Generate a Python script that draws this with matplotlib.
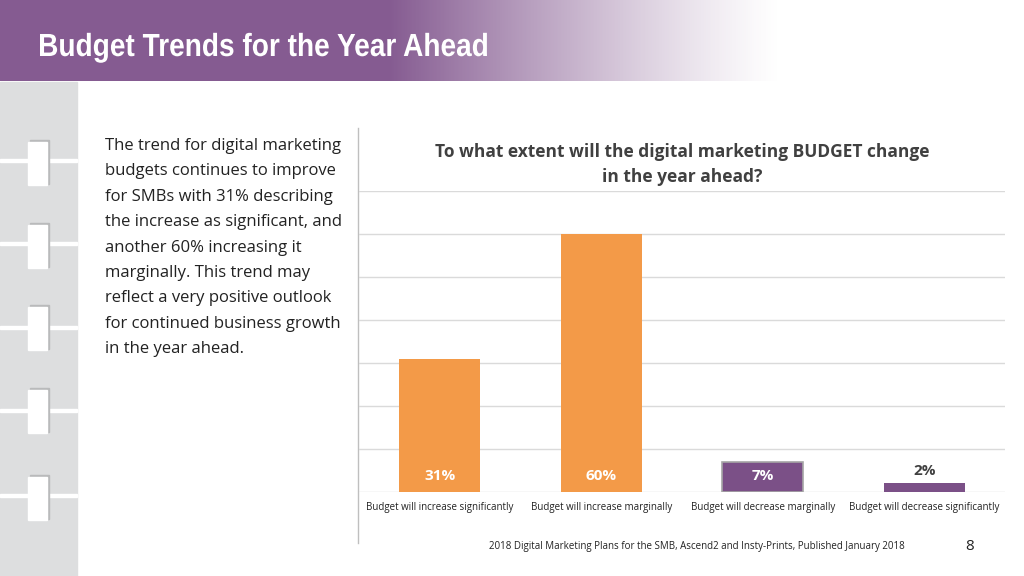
import numpy as np
import matplotlib.pyplot as plt
from matplotlib.patches import Rectangle, PathPatch
from matplotlib.textpath import TextPath
from matplotlib.font_manager import FontProperties
from matplotlib.transforms import Affine2D

# Dados
categories = ["Budget will increase significantly", "Budget will increase marginally",
              "Budget will decrease marginally", "Budget will decrease significantly"]
values = [31, 60, 7, 2]
bar_colors = ["#F39A48", "#F39A48", "#7B5087", "#7B5087"]
label_colors = ["white", "white", "white", "#404040"]

header = "Budget Trends for the Year Ahead"
chart_title = ["To what extent will the digital marketing BUDGET change", "in the year ahead?"]
body = ["The trend for digital marketing", "budgets continues to improve",
        "for SMBs with 31% describing", "the increase as significant, and",
        "another 60% increasing it", "marginally. This trend may",
        "reflect a very positive outlook", "for continued business growth",
        "in the year ahead."]
source = "2018 Digital Marketing Plans for the SMB, Ascend2 and Insty-Prints, Published January 2018"

fig = plt.figure(figsize=(10.24, 5.76), dpi=100)

# fundo em coordenadas de pixel
bg = fig.add_axes([0, 0, 1, 1])
bg.set_xlim(0, 1024)
bg.set_ylim(576, 0)
bg.axis("off")

# faixa do cabeçalho com degradê
w = 1024
grad = np.zeros((1, w, 4))
base = np.array([0x85, 0x5B, 0x91]) / 255
xs = np.arange(w)
alpha = np.clip(1 - (xs - 390) / 390, 0, 1) ** 1.2
grad[0, :, :3] = base
grad[0, :, 3] = alpha
bg.imshow(grad, extent=[0, 1024, 81, 0], aspect="auto", zorder=1)

# título estreito (fonte condensada simulada)
tp = TextPath((0, 0), header, size=32, prop=FontProperties(family="Liberation Sans", weight="bold"))
ext = tp.get_extents()
sx = 447 / ext.width
tr = Affine2D().translate(-ext.x0, 0).scale(sx, -1).translate(40, 56)
bg.add_patch(PathPatch(tr.transform_path(tp), color="white", lw=0, zorder=3))

# painel lateral cinza com abas
bg.add_patch(Rectangle((0, 82), 77, 494, color="#DDDEDF", zorder=1))
for top, gap in [(140, 160), (223, 243), (305, 327), (388, 410), (475, 495)]:
    bg.add_patch(Rectangle((0, gap - 1.5), 77, 3, color="white", zorder=2))
    bg.add_patch(Rectangle((30, top), 19, 44, color="#B9BABB", zorder=2))
    bg.add_patch(Rectangle((28, top + 2), 19, 43, color="white", zorder=3))

# texto do lado esquerdo
for i, line in enumerate(body):
    bg.text(105, 146 + i * 25.4, line, fontsize=12, color="#222222",
            family=["Open Sans", "DejaVu Sans"], va="center", ha="left")

# linha vertical separadora
bg.plot([358, 358], [128, 543], color="#BFBFBF", lw=1)

# título do gráfico
for i, line in enumerate(chart_title):
    bg.text(682, 152 + i * 25, line, fontsize=12.5, fontweight="bold", color="#404040",
            family=["Open Sans", "DejaVu Sans"], ha="center", va="center")

bg.text(697, 547, source, fontsize=7, color="#222222", family=["Open Sans", "DejaVu Sans"],
        ha="center", va="center")
bg.text(970, 547, "8", fontsize=11, color="#222222", family=["Open Sans", "DejaVu Sans"],
        ha="center", va="center")

# gráfico de barras
ax = fig.add_axes([359 / 1024, (576 - 492) / 576, 646 / 1024, 301 / 576])
ax.patch.set_alpha(0)
x = np.arange(len(categories))
bars = ax.bar(x, values, width=0.5, color=bar_colors, zorder=2)
bars[2].set_edgecolor("#A6A6A6")
bars[2].set_linewidth(1.2)
ax.set_xlim(-0.5, 3.5)
ax.set_ylim(0, 70)
ax.set_yticks(np.arange(0, 71, 10))
ax.yaxis.grid(True, color="#DADADA", lw=1, zorder=0)
ax.tick_params(axis="y", left=False, labelleft=False)
ax.tick_params(axis="x", bottom=False, pad=4)
ax.set_xticks(x)
ax.set_xticklabels(categories, fontsize=7, color="#222222", family=["Open Sans", "DejaVu Sans"])
for s in ax.spines.values():
    s.set_visible(False)

for xi, v, c in zip(x, values, label_colors):
    y = 3.7 if c == "white" else v + 2.9
    ax.text(xi, y, f"{v}%", ha="center", va="center", fontsize=11, fontweight="bold",
            color=c, family=["Open Sans", "DejaVu Sans"], zorder=3)

fig.savefig("out.png", dpi=100)
